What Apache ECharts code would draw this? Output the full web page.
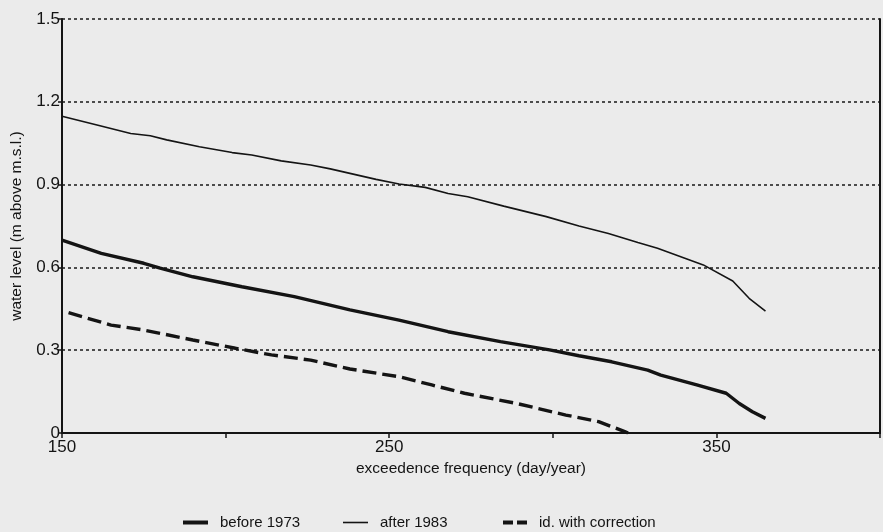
<!DOCTYPE html>
<html>
<head>
<meta charset="utf-8">
<script src="https://cdn.jsdelivr.net/npm/echarts@6/dist/echarts.min.js"></script>
<style>
  html, body { margin: 0; padding: 0; background: #ebebeb; }
  #chart { width: 883px; height: 532px; }
</style>
</head>
<body>
<div id="chart"></div>
<script>
// Exceedence frequency (day/year) and water level (m above m.s.l.)
const before1973X = [150, 162, 175, 180, 190, 205, 221, 238, 253, 268, 284, 299, 308, 318, 329, 333, 344, 353, 357, 361, 365];
const before1973Y = [0.699, 0.651, 0.615, 0.597, 0.566, 0.530, 0.494, 0.446, 0.409, 0.367, 0.331, 0.301, 0.280, 0.258, 0.228, 0.210, 0.174, 0.144, 0.107, 0.077, 0.053];

const after1983X = [150, 161, 171, 177, 182, 192, 202, 208, 217, 226, 232, 246, 253, 261, 268, 274, 285, 298, 308, 317, 326, 332, 346, 355, 360, 365];
const after1983Y = [1.148, 1.115, 1.085, 1.077, 1.062, 1.037, 1.016, 1.007, 0.986, 0.971, 0.957, 0.919, 0.902, 0.890, 0.868, 0.856, 0.822, 0.784, 0.750, 0.723, 0.690, 0.669, 0.609, 0.551, 0.488, 0.442];

const correctionX = [152, 165, 175, 190, 203, 214, 226, 238, 253, 263, 273, 289, 304, 314, 322, 323];
const correctionY = [0.436, 0.391, 0.373, 0.337, 0.307, 0.283, 0.264, 0.232, 0.204, 0.174, 0.144, 0.107, 0.065, 0.041, 0.005, 0];

const seriesNames = ['before 1973', 'after 1983', 'id. with correction'];
const xLabelled = [150, 250, 350];

const pairs = (xs, ys) => xs.map((x, i) => [x, ys[i]]);
const ink = '#141414';
const font = 'Liberation Sans, Arial, sans-serif';

const chart = echarts.init(document.getElementById('chart'), null, { renderer: 'canvas' });

// Legend swatches: solid bars for the plain lines, two short bars for the dashed one
const legendBase = {
  orient: 'horizontal',
  top: 510,
  itemWidth: 25,
  textStyle: { fontFamily: font, fontSize: 15, color: ink, padding: [0, 0, 0, 7] },
  itemStyle: { color: ink, borderWidth: 0 },
  selectedMode: false
};

chart.setOption({
  backgroundColor: '#ebebeb',
  animation: false,
  grid: { left: 62, top: 19, right: 1, bottom: 99 },
  legend: [
    Object.assign({}, legendBase, { left: 178, itemHeight: 4, data: [{ name: seriesNames[0], icon: 'rect' }] }),
    Object.assign({}, legendBase, { left: 338, itemHeight: 1.6, data: [{ name: seriesNames[1], icon: 'rect' }] }),
    Object.assign({}, legendBase, { left: 498, itemWidth: 24, itemHeight: 4,
      data: [{ name: seriesNames[2], icon: 'path://M0,0H10V4H0Z M14,0H24V4H14Z' }] })
  ],
  xAxis: [
    {
      type: 'value',
      min: 150,
      max: 400,
      interval: 50,
      name: 'exceedence frequency (day/year)',
      nameLocation: 'middle',
      nameGap: 25,
      nameTextStyle: { fontFamily: font, fontSize: 15.5, color: ink },
      axisLine: { show: true, lineStyle: { color: ink, width: 2 } },
      axisTick: { show: true, length: 5, lineStyle: { color: ink, width: 1.5 } },
      axisLabel: {
        fontFamily: font, fontSize: 17, color: ink, margin: 6,
        formatter: v => (xLabelled.indexOf(v) >= 0 ? String(v) : '')
      },
      splitLine: { show: false }
    },
    {
      type: 'value',
      position: 'top',
      min: 150,
      max: 400,
      interval: 50,
      axisLine: { show: true, lineStyle: { color: ink, width: 2 } },
      axisTick: { show: false },
      axisLabel: { show: false },
      splitLine: { show: false }
    }
  ],
  yAxis: [
    {
      type: 'value',
      min: 0,
      max: 1.5,
      interval: 0.3,
      name: 'water level (m above m.s.l.)',
      nameLocation: 'middle',
      nameGap: 37,
      nameRotate: 90,
      nameTextStyle: { fontFamily: font, fontSize: 15.5, color: ink },
      axisLine: { show: true, lineStyle: { color: ink, width: 2 } },
      axisTick: { show: true, length: 4, lineStyle: { color: ink, width: 1.5 } },
      axisLabel: {
        fontFamily: font, fontSize: 17, color: ink, margin: 2,
        formatter: v => (v === 0 ? '0' : v.toFixed(1))
      },
      splitLine: { show: true, lineStyle: { color: '#262626', width: 1.6, type: [3, 3] } }
    },
    {
      type: 'value',
      position: 'right',
      min: 0,
      max: 1.5,
      interval: 0.3,
      axisLine: { show: true, lineStyle: { color: ink, width: 2 } },
      axisTick: { show: false },
      axisLabel: { show: false },
      splitLine: { show: false }
    }
  ],
  series: [
    {
      name: seriesNames[0],
      type: 'line',
      data: pairs(before1973X, before1973Y),
      symbol: 'none',
      lineStyle: { color: ink, width: 3.4 },
      itemStyle: { color: ink },
      z: 5
    },
    {
      name: seriesNames[1],
      type: 'line',
      data: pairs(after1983X, after1983Y),
      symbol: 'none',
      lineStyle: { color: ink, width: 1.6 },
      itemStyle: { color: ink },
      z: 5
    },
    {
      name: seriesNames[2],
      type: 'line',
      data: pairs(correctionX, correctionY),
      symbol: 'none',
      lineStyle: { color: ink, width: 3.4, type: [14, 6] },
      itemStyle: { color: ink },
      z: 5
    }
  ]
});
</script>
</body>
</html>
